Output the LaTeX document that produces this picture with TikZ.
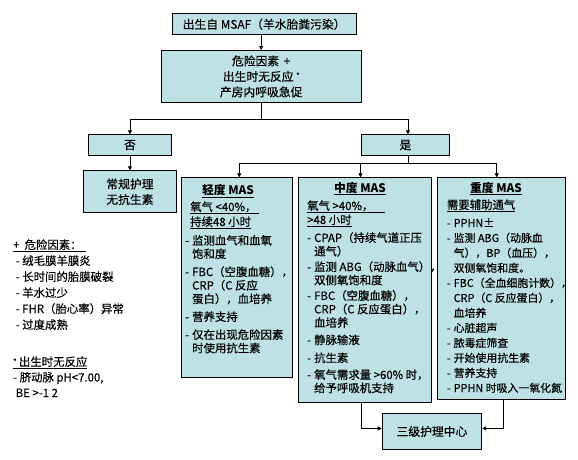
\documentclass[tikz,border=0pt]{standalone}
\usepackage{fontspec}
\setmainfont[UprightFeatures={FakeBold=0.35}]{Noto Sans CJK SC}
\usetikzlibrary{arrows.meta}
\definecolor{boxfill}{RGB}{189,225,228}

\begin{document}
\begin{tikzpicture}[x=1pt,y=-1pt,
    box/.style={draw,fill=boxfill,line width=0.9pt,inner sep=0pt,anchor=north west,align=center,font=\fontsize{11.8}{15.5}\selectfont},
    txt/.style={inner sep=0pt,anchor=base west,font=\fontsize{11.4}{12.5}\selectfont},
    title/.style={inner sep=0pt,anchor=base,font=\bfseries\fontsize{11.8}{12}\selectfont},
    arr/.style={-{Triangle[length=4pt,width=4pt]},line width=0.8pt}]

    % page size
    \useasboundingbox (0,0) rectangle (578,459);

    % top of the chart
    \node[box,minimum width=184pt,minimum height=21pt] (msaf) at (171.7,13.3) {出生自 MSAF（羊水胎粪污染）};
    \node[box,minimum width=200pt,minimum height=52pt] (risk) at (160.7,50) {危险因素 \,+\\ 出生时无反应 \raisebox{3pt}{\scriptsize *}\\ 产房内呼吸急促};
    \node[box,minimum width=83.6pt,minimum height=20.7pt] (no) at (87.7,134.3) {否};
    \node[box,minimum width=88.6pt,minimum height=20.7pt] (yes) at (360.7,134.3) {是};
    \node[box,minimum width=93.6pt,minimum height=42pt] (routine) at (82.7,170.3) {常规护理\\ 无抗生素};

    % the three MAS columns
    \node[box,minimum width=111pt,minimum height=200pt] (light) at (181.3,177.3) {};
    \node[box,minimum width=133pt,minimum height=225pt] (middle) at (298,177.3) {};
    \node[box,minimum width=128pt,minimum height=222pt] (heavy) at (437.3,177.3) {};
    \node[box,minimum width=99.6pt,minimum height=36.6pt] (tert) at (381.7,412.7) {三级护理中心};

    % light MAS
    \node[title] (lighttitle) at (228,194.5) {\underline{轻度 MAS}};
    \node[txt,font=\fontsize{11.4}{15}\selectfont] (lightcond) at (190,211) {\begin{tabular}[t]{@{}l@{}}\underline{氧气 <40\%，\ }\\ \underline{持续48 小时}\end{tabular}};
    \node[txt] (lightlist) at (185,244.7) {\begin{tabular}[t]{@{}l@{\hspace{3pt}}l@{}}
        - & 监测血气和血氧\\
          & 饱和度\\[4.5pt]
        - & FBC（空腹血糖），\\
          & CRP（C 反应\\
          & 蛋白），血培养\\[4.5pt]
        - & 营养支持\\[4.5pt]
        - & 仅在出现危险因素\\
          & 时使用抗生素
    \end{tabular}};

    % middle MAS
    \node[title] (middletitle) at (360,192) {\underline{中度 MAS}};
    \node[txt,font=\fontsize{11.4}{14}\selectfont] (middlecond) at (307,210) {\begin{tabular}[t]{@{}l@{}}\underline{氧气 >40\%，\quad}\\ \underline{>48 小时}\end{tabular}};
    \node[txt] (middlelist) at (307,242) {\begin{tabular}[t]{@{}l@{\hspace{3pt}}l@{}}
        - & CPAP（持续气道正压\\
          & 通气）\\[2pt]
        - & 监测 ABG（动脉血气），\\
          & 双侧氧饱和度\\[2pt]
        - & FBC（空腹血糖），\\
          & CRP（C 反应蛋白），\\
          & 血培养\\[4pt]
        - & 静脉输液\\[4.5pt]
        - & 抗生素\\[3.5pt]
        - & 氧气需求量 >60\% 时，\\
          & 给予呼吸机支持
    \end{tabular}};

    % heavy MAS
    \node[title] (heavytitle) at (496,192) {\underline{重度 MAS}};
    \node[txt] (heavycond) at (446.7,209) {\underline{需要辅助通气}};
    \node[txt,font=\fontsize{10.9}{15}\selectfont] (heavylist) at (446.7,227) {\begin{tabular}[t]{@{}l@{\hspace{3pt}}l@{}}
        - & PPHN±\\
        - & 监测 ABG（动脉血\\
          & 气），BP（血压），\\
          & 双侧氧饱和度。\\
        - & FBC（全血细胞计数），\\
          & CRP（C 反应蛋白），\\
          & 血培养\\
        - & 心脏超声\\
        - & 脓毒症筛查\\
        - & 开始使用抗生素\\
        - & 营养支持\\
        - & PPHN 时吸入一氧化氮
    \end{tabular}};

    % key on the left
    \node[txt,font=\fontsize{11.4}{16}\selectfont] (riskkey) at (13,249) {\begin{tabular}[t]{@{}l@{}}
        \underline{+\ \ 危险因素：\hspace{4pt}}\\
        \ - 绒毛膜羊膜炎\\
        \ - 长时间的胎膜破裂\\
        \ - 羊水过少\\
        \ - FHR（胎心率）异常\\
        \ - 过度成熟
    \end{tabular}};
    \node[txt,font=\fontsize{11.4}{15.5}\selectfont] (noresp) at (13,366) {\begin{tabular}[t]{@{}l@{}}
        \underline{\raisebox{2pt}{\scriptsize *} 出生时无反应}\\
        - 脐动脉 pH<7.00,\\
        \ BE >-1 2
    \end{tabular}};

    % connectors
    \draw[arr] (msaf.south -| risk.north) -- (risk.north);
    \draw[line width=0.8pt] (risk.south) -- ++(0,16) coordinate (fork);
    \draw[arr] (fork) -| (no.north);
    \draw[arr] (fork) -| ([xshift=2.5pt]yes.north);
    \draw[arr] (no.south) -- (routine.north);
    \draw[line width=0.8pt] ([xshift=2.5pt]yes.south) -- ++(0,7) coordinate (fork2);
    \foreach \col/\dx in {light/2,middle/-4.5,heavy/-5}
        \draw[arr] (fork2) -| ([xshift=\dx pt]\col.north);
    \draw[arr] ([xshift=-4pt]middle.south) |- ([yshift=3pt]tert.west);
    \draw[arr] ([xshift=1.5pt]heavy.south) |- ([yshift=3pt]tert.east);

\end{tikzpicture}
\end{document}
